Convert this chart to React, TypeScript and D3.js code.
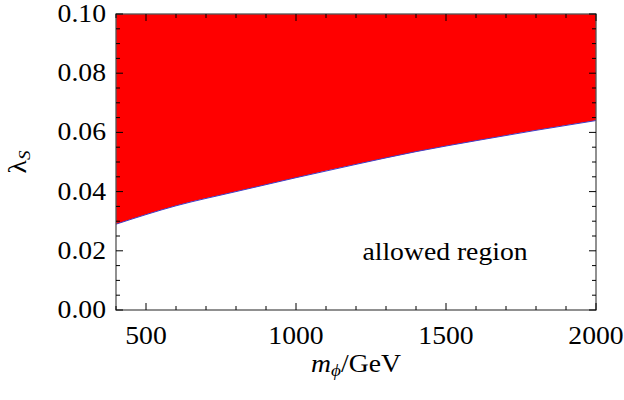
import React from "react";
import * as d3 from "d3";

const massValues = [400, 600, 800, 1000, 1200, 1400, 1600, 1800, 2000];
const lambdaBound = [0.029, 0.0352, 0.04, 0.0447, 0.0492, 0.0535, 0.0572, 0.0607, 0.064];
const xTickValues = [500, 1000, 1500, 2000];
const yTickValues = [0, 0.02, 0.04, 0.06, 0.08, 0.1];
const xDomain = [400, 2000];
const yDomain = [0, 0.1];

const W = 624, H = 400;
const M = { left: 116, right: 596, top: 14, bottom: 310 };
const FONT = "'Liberation Serif', 'DejaVu Serif', serif";
const FS = 24.5;
const SX = 1.13;

function Txt(props: { x: number; y: number; anchor?: string; rotate?: number; children: React.ReactNode }) {
  const { x, y, anchor = "start", rotate = 0, children } = props;
  return (
    <text transform={`translate(${x},${y}) rotate(${rotate}) scale(${SX},1)`} textAnchor={anchor}
      fontFamily={FONT} fontSize={FS} fill="#000">{children}</text>
  );
}

export default function App() {
  const x = d3.scaleLinear().domain(xDomain).range([M.left, M.right]);
  const y = d3.scaleLinear().domain(yDomain).range([M.bottom, M.top]);
  const pts = massValues.map((m, i) => [m, lambdaBound[i]] as [number, number]);

  const area = d3.area<[number, number]>()
    .x(d => x(d[0]))
    .y0(() => y(yDomain[1]))
    .y1(d => y(d[1]))
    .curve(d3.curveMonotoneX);
  const line = d3.line<[number, number]>()
    .x(d => x(d[0]))
    .y(d => y(d[1]))
    .curve(d3.curveMonotoneX);

  const xMinor = d3.range(400, 2001, 100).filter(v => !xTickValues.includes(v));
  const yMinor = d3.range(0, 21).map(i => i * 0.005).filter((v, i) => i % 4 !== 0);

  const major = 7, minor = 4;

  return (
    <svg width={W} height={H} style={{ position: "absolute", left: 0, top: 0 }}>
      <rect x={0} y={0} width={W} height={H} fill="#fff" />
      <path d={area(pts) || ""} fill="#ff0000" />
      <path d={line(pts) || ""} fill="none" stroke="#4040c8" strokeWidth={1} />
      <rect x={M.left} y={M.top} width={M.right - M.left} height={M.bottom - M.top}
        fill="none" stroke="#555" strokeWidth={1.3} />
      {xTickValues.map(v => (
        <g key={"xt" + v}>
          <line x1={x(v)} x2={x(v)} y1={M.bottom} y2={M.bottom - major} stroke="#000" />
          <line x1={x(v)} x2={x(v)} y1={M.top} y2={M.top + major} stroke="#000" />
          <Txt x={x(v)} y={344} anchor="middle">{v}</Txt>
        </g>
      ))}
      {xMinor.map(v => (
        <g key={"xm" + v}>
          <line x1={x(v)} x2={x(v)} y1={M.bottom} y2={M.bottom - minor} stroke="#000" />
          <line x1={x(v)} x2={x(v)} y1={M.top} y2={M.top + minor} stroke="#000" />
        </g>
      ))}
      {yTickValues.map(v => (
        <g key={"yt" + v}>
          <line x1={M.left} x2={M.left + major} y1={y(v)} y2={y(v)} stroke="#000" />
          <line x1={M.right} x2={M.right - major} y1={y(v)} y2={y(v)} stroke="#000" />
          <Txt x={106} y={y(v) + 8} anchor="end">{v.toFixed(2)}</Txt>
        </g>
      ))}
      {yMinor.map(v => (
        <g key={"ym" + v}>
          <line x1={M.left} x2={M.left + minor} y1={y(v)} y2={y(v)} stroke="#000" />
          <line x1={M.right} x2={M.right - minor} y1={y(v)} y2={y(v)} stroke="#000" />
        </g>
      ))}
      <Txt x={445} y={260} anchor="middle">allowed region</Txt>
      <Txt x={356} y={372} anchor="middle">
        <tspan fontStyle="italic">m</tspan>
        <tspan fontStyle="italic" fontSize={17} dy={4}>ϕ</tspan>
        <tspan dy={-4}>/GeV</tspan>
      </Txt>
      <Txt x={26} y={(M.top + M.bottom) / 2} anchor="middle" rotate={-90}>
        <tspan>λ</tspan>
        <tspan fontStyle="italic" fontSize={17} dy={4}>S</tspan>
      </Txt>
    </svg>
  );
}
